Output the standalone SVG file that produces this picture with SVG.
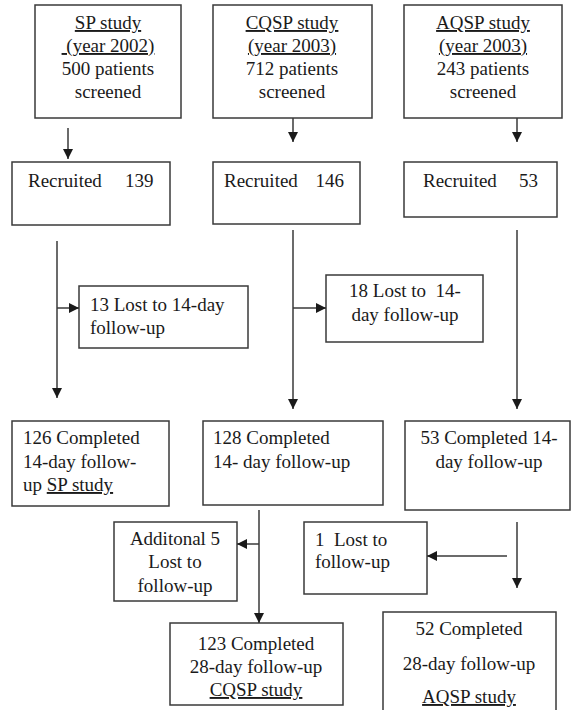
<svg xmlns="http://www.w3.org/2000/svg" width="571" height="710" viewBox="0 0 571 710">
<style>
rect.b{fill:#fff;stroke:#3a3a3a;stroke-width:1.5}
text{font-family:"Liberation Serif","Times New Roman",serif;font-size:19px;fill:#1a1a1a;white-space:pre}
.c{text-anchor:middle}
.e{text-anchor:end}
.u{text-decoration:underline}
.l{stroke:#3a3a3a;stroke-width:1.5;fill:none}
</style>
<defs>
<marker id="ah" viewBox="0 0 10 10" refX="10" refY="5" markerWidth="10" markerHeight="10" markerUnits="userSpaceOnUse" orient="auto">
<path d="M0,0 L10,5 L0,10 z" fill="#1a1a1a"/>
</marker>
</defs>
<rect width="571" height="710" fill="#fff"/>
<g id="sp">
<rect class="b" x="35" y="5" width="146" height="113"/>
<text class="c" x="108" y="29"><tspan class="u">SP study</tspan></text>
<text class="c" x="108" y="52"><tspan class="u"> (year 2002)</tspan></text>
<text class="c" x="108" y="75">500 patients</text>
<text class="c" x="108" y="98">screened</text>
</g>
<g id="cqsp">
<rect class="b" x="213" y="5" width="159" height="113"/>
<text class="c" x="292" y="29"><tspan class="u">CQSP study</tspan></text>
<text class="c" x="292" y="52"><tspan class="u">(year 2003)</tspan></text>
<text class="c" x="292" y="75">712 patients</text>
<text class="c" x="292" y="98">screened</text>
</g>
<g id="aqsp">
<rect class="b" x="404" y="5" width="158" height="113"/>
<text class="c" x="483" y="29"><tspan class="u">AQSP study</tspan></text>
<text class="c" x="483" y="52"><tspan class="u">(year 2003)</tspan></text>
<text class="c" x="483" y="75">243 patients</text>
<text class="c" x="483" y="98">screened</text>
</g>
<g id="rec139">
<rect class="b" x="12" y="162" width="158" height="63"/>
<text x="28" y="187">Recruited</text>
<text x="125" y="187">139</text>
</g>
<g id="rec146">
<rect class="b" x="213" y="162" width="147" height="62"/>
<text x="224" y="187">Recruited</text>
<text class="e" x="344" y="187">146</text>
</g>
<g id="rec53">
<rect class="b" x="404" y="162" width="153" height="55"/>
<text x="423" y="187">Recruited</text>
<text class="e" x="538" y="187">53</text>
</g>
<g id="lost13">
<rect class="b" x="79" y="286" width="169" height="62"/>
<text x="90" y="311">13 Lost to 14-day</text>
<text x="90" y="334">follow-up</text>
</g>
<g id="lost18">
<rect class="b" x="326" y="275" width="157" height="67"/>
<text class="c" x="405" y="297">18 Lost to  14-</text>
<text class="c" x="405" y="321">day follow-up</text>
</g>
<g id="comp126">
<rect class="b" x="12" y="421" width="157" height="85"/>
<text x="23" y="444">126 Completed</text>
<text x="23" y="468">14-day follow-</text>
<text x="23" y="491">up <tspan class="u">SP study</tspan></text>
</g>
<g id="comp128">
<rect class="b" x="203" y="421" width="180" height="84"/>
<text x="213" y="444">128 Completed</text>
<text x="213" y="468">14- day follow-up</text>
</g>
<g id="comp53">
<rect class="b" x="405" y="421" width="165" height="89"/>
<text class="c" x="489" y="444">53 Completed 14-</text>
<text class="c" x="489" y="468">day follow-up</text>
</g>
<g id="add5">
<rect class="b" x="114" y="522" width="123" height="79"/>
<text class="c" x="175" y="545">Additonal 5</text>
<text class="c" x="175" y="568">Lost to</text>
<text class="c" x="175" y="592">follow-up</text>
</g>
<g id="lost1">
<rect class="b" x="304" y="522" width="123" height="72"/>
<text x="315" y="546">1  Lost to</text>
<text x="315" y="568">follow-up</text>
</g>
<g id="comp123">
<rect class="b" x="170" y="623" width="173" height="82"/>
<text class="c" x="256" y="650">123 Completed</text>
<text class="c" x="256" y="673">28-day follow-up</text>
<text class="c" x="256" y="696"><tspan class="u">CQSP study</tspan></text>
</g>
<g id="comp52">
<rect class="b" x="383" y="612" width="173" height="102"/>
<text class="c" x="469" y="635">52 Completed</text>
<text class="c" x="469" y="670">28-day follow-up</text>
<text class="c" x="469" y="703"><tspan class="u">AQSP study</tspan></text>
</g>
<g id="connectors">
<line class="l" x1="68" y1="128" x2="68" y2="159" marker-end="url(#ah)"/>
<line class="l" x1="293" y1="118" x2="293" y2="142" marker-end="url(#ah)"/>
<line class="l" x1="517" y1="118" x2="517" y2="142" marker-end="url(#ah)"/>
<line class="l" x1="57" y1="241" x2="57" y2="398" marker-end="url(#ah)"/>
<line class="l" x1="57" y1="308" x2="79" y2="308" marker-end="url(#ah)"/>
<line class="l" x1="293" y1="230" x2="293" y2="409" marker-end="url(#ah)"/>
<line class="l" x1="293" y1="308" x2="326" y2="308" marker-end="url(#ah)"/>
<line class="l" x1="517" y1="230" x2="517" y2="409" marker-end="url(#ah)"/>
<line class="l" x1="259" y1="510" x2="259" y2="623" marker-end="url(#ah)"/>
<line class="l" x1="259" y1="544" x2="237" y2="544" marker-end="url(#ah)"/>
<line class="l" x1="507" y1="556" x2="427" y2="556" marker-end="url(#ah)"/>
<line class="l" x1="517" y1="522" x2="517" y2="588" marker-end="url(#ah)"/>
</g>
</svg>
